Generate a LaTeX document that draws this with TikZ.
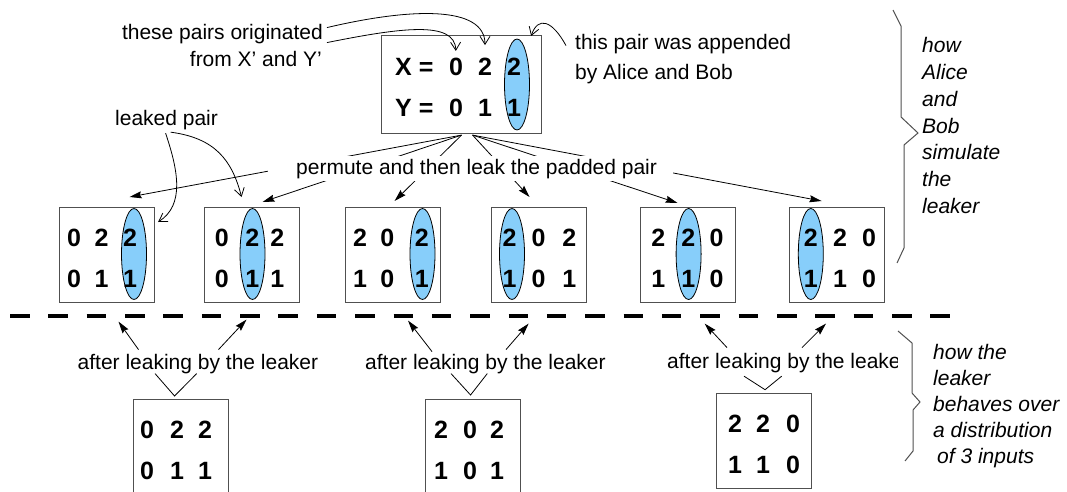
\documentclass[tikz,border=0pt]{standalone}
\usepackage{fontspec}
\setmainfont{Liberation Sans}
\usetikzlibrary{arrows.meta,calc}
\definecolor{ellblue}{RGB}{135,206,250}
\definecolor{boxgray}{RGB}{80,80,80}
\newcommand\databox[5]{%
  \node[boxst, anchor=north west] (#1) at (#2,#3) {};
  \if\relax\detokenize{#5}\relax\else
    \draw[ellst] (#5,#3+47) ellipse [x radius=12.5, y radius=45.5];
  \fi
  \foreach \dx/\dt/\db [count=\i] in {#4} {
    \node[digit] (#1-t\i) at (\dx,#3+31) {\dt};
    \node[digit] (#1-b\i) at (\dx,#3+72) {\db};
  }%
}
\begin{document}
\begin{tikzpicture}[x=1pt,y=-1pt,
  boxst/.style={draw=boxgray, line width=1.1pt, minimum width=95pt, minimum height=95pt, inner sep=0pt},
  ellst/.style={draw=black, fill=ellblue, line width=0.8pt},
  digit/.style={font=\fontsize{25}{29}\selectfont\bfseries, inner sep=0pt},
  lbl/.style={font=\fontsize{21}{27}\selectfont, inner sep=0pt},
  itl/.style={font=\fontsize{21}{26.7}\selectfont\itshape, inner sep=0pt, align=left},
  itltwo/.style={font=\fontsize{21}{26}\selectfont\itshape, inner sep=0pt, align=left},
  arr/.style={-{Stealth[length=12pt,width=7pt,inset=1.5pt]}, line width=0.8pt},
  barb/.style={-{Straight Barb[length=8pt,width=10pt]}, line width=0.8pt},
  conn/.style={line width=0.8pt},
  bracest/.style={draw=boxgray, line width=1pt},
  dashst/.style={line width=4pt, dash pattern=on 19.5pt off 18.85pt},
]
\useasboundingbox (0,0) rectangle (1067,492);

% ---- top box
\node[boxst, minimum width=160pt, minimum height=98pt, anchor=north west] (top) at (381,35) {};
\draw[ellst] (517,84.5) ellipse [x radius=12.5, y radius=45.5];
\node[digit, anchor=west] (xlab) at (395,67) {X =};
\node[digit, anchor=west] (ylab) at (395,108) {Y =};
\foreach \dx/\dt/\db [count=\i] in {456/0/0, 485/2/1, 514/2/1} {
  \node[digit] (top-t\i) at (\dx,67) {\dt};
  \node[digit] (top-b\i) at (\dx,108) {\db};
}

% ---- middle boxes
\databox{b1}{59}{207}{74/0/0, 101.7/2/1, 130/2/1}{134}
\databox{b2}{204}{207}{221.7/0/0, 252.3/2/1, 277.3/2/1}{252.5}
\databox{b3}{345}{207}{360/2/1, 387.4/0/0, 421.8/2/1}{422.5}
\databox{b4}{491}{207}{509.6/2/1, 538.6/0/0, 569.4/2/1}{512}
\databox{b5}{640}{207}{658.4/2/1, 688.2/2/1, 716.6/0/0}{688.6}
\databox{b6}{789}{207}{810.8/2/1, 840/2/1, 869/0/0}{810.8}

% ---- bottom boxes
\databox{bb1}{133}{399}{147/0/0, 177/2/1, 205/2/1}{}
\databox{bb2}{425}{399}{441/2/1, 470/0/0, 497/2/1}{}
\databox{bb3}{716}{393}{735/2/1, 763/2/1, 793/0/0}{}

% ---- dashed separator
\coordinate (dashL) at (10,315.5);
\coordinate (dashR) at (950,315.5);
\draw[dashst] (dashL) -- (dashR);

% ---- top labels
\node[lbl, anchor=base east] (orig1) at (323,40) {these pairs originated};
\node[lbl, anchor=base east] (orig2) at (322,67) {from X’ and Y’};
\node[lbl, anchor=base west] (app1) at (575,50) {this pair was appended};
\node[lbl, anchor=base west] (app2) at (575,80) {by Alice and Bob};
\node[lbl, anchor=base west] (leak) at (115,125) {leaked pair};

\draw[barb, shorten >=7pt] ($(orig1.east)+(4,8)$) .. controls (400,28) and (455,20) .. (top-t1.north);
\draw[barb, shorten >=13pt] ($(orig1.east)+(4,-7)$) .. controls (410,8) and (485,5) .. (top-t2.north);
\draw[barb] ($(app1.west)+(-9,1)$) .. controls (552,20) and (538,16) .. ($(top.north east)+(-11,1)$);

\draw[barb] ($(leak.south)+(-1,3.6)$) .. controls (178,170) and (185,205) .. ($(b1.north east)+(3,15)$);
\draw[barb] ($(leak.south)+(4,2.6)$) .. controls (215,138) and (232,160) .. ($(b2.north)+(-10.5,-10)$);

% ---- permute arrows
\coordinate (sL) at ($(top.south)+(0,1)$);
\coordinate (sR) at ($(top.south)+(11,1)$);
\draw[arr] (sL) -- ($(b1.north)+(22.5,-10)$);
\draw[arr] (sL) -- ($(b2.north)+(10.5,-5)$);
\draw[arr] (sL) -- ($(b3.north)+(1.5,-6)$);
\draw[arr] (sR) -- ($(b4.north)+(-9.5,-10)$);
\draw[arr] (sR) -- ($(b5.north)+(-10.5,-4)$);
\draw[arr] (sR) -- ($(b6.north)+(-15.5,-6)$);
\node[lbl, fill=white, inner xsep=16pt, inner ysep=2.8pt, anchor=base west] (perm) at (268,174) {\hspace*{12pt}permute and then leak the padded pair};

% ---- bottom labels
\node[lbl, anchor=base west] (a1) at (77.5,369) {after leaking by the leaker};
\node[lbl, anchor=base west] (a2) at (365,369) {after leaking by the leaker};
\begin{scope}
\clip (0,0) rectangle (897,492);
\node[lbl, anchor=base west] (a3) at (667,368) {after leaking by the leaker};
\end{scope}

\draw[arr] ($(a1.north west)+(61,-4)$) -- ($(a1.north west)+(41,-32)$);
\draw[arr] ($(a1.north west)+(141,-4)$) -- ($(a1.north west)+(169,-34)$);
\draw[arr] ($(a2.north west)+(67,-2)$) -- ($(a2.north west)+(43,-33)$);
\draw[arr] ($(a2.north west)+(141,-4)$) -- ($(a2.north west)+(163.6,-30)$);
\draw[arr] ($(a3.north west)+(60,-5)$) -- ($(a3.north west)+(37.7,-29)$);
\draw[arr] ($(a3.north west)+(135,-5)$) -- ($(a3.north west)+(159,-29)$);

\draw[conn] ($(a1.south west)+(77.5,0)$) -- ($(bb1.north)+(-6.5,-3)$) -- ($(a1.south west)+(119.2,0)$);
\draw[conn] ($(a2.south west)+(86,0)$) -- ($(bb2.north)+(-2.5,-4)$) -- ($(a2.south west)+(122.3,0)$);
\draw[conn] ($(a3.south west)+(77,3.6)$) -- ($(bb3.north)+(1,-3.3)$) -- ($(a3.south west)+(114.7,3.6)$);

% ---- braces and side notes
\draw[bracest] (893,10) -- (901,26) -- (901,117) -- (918,133) -- (904,145) -- (904,248) -- (897,263);
\draw[bracest] (898,331) -- (912,343) -- (912,393) -- (920,402) -- (913,410) -- (913,451) -- (905,461);
\node[itl, anchor=north west] (sim) at (922,37.5) {how\\Alice\\and\\Bob\\simulate\\the\\leaker};
\node[itltwo, anchor=north west] (beh) at (933,344.5) {how the\\leaker\\behaves over\\a distribution\\\hspace*{4pt}of 3 inputs};
\end{tikzpicture}
\end{document}
